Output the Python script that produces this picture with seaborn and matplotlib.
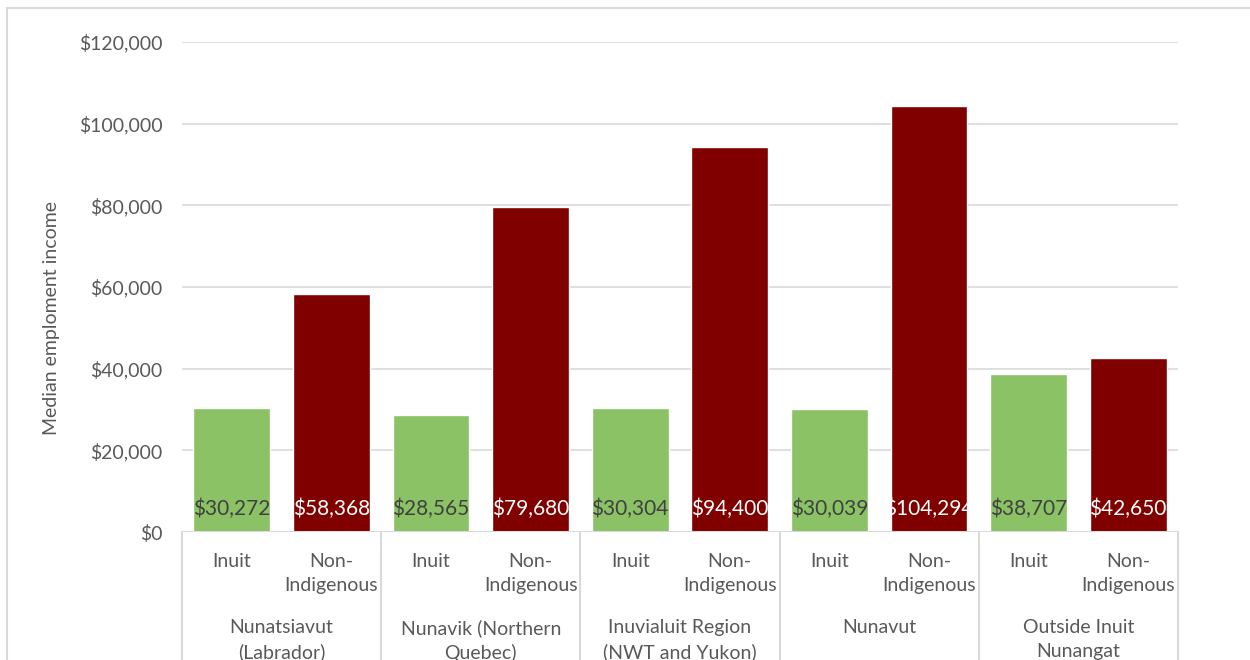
import matplotlib
matplotlib.use("Agg")
import matplotlib.pyplot as plt
import matplotlib.transforms as mtransforms
from matplotlib.patches import Rectangle
import seaborn as sns
import pandas as pd

# ---- data ----
regions = ["Nunatsiavut\n(Labrador)", "Nunavik (Northern\nQuebec)",
           "Inuvialuit Region\n(NWT and Yukon)", "Nunavut",
           "Outside Inuit\nNunangat"]
groups = ["Inuit", "Non-\nIndigenous"]
inuit_income = [30272, 28565, 30304, 30039, 38707]
non_indigenous_income = [58368, 79680, 94400, 104294, 42650]
y_ticks = [0, 20000, 40000, 60000, 80000, 100000, 120000]
y_label = "Median emploment income"

rows = []
for r, a, b in zip(regions, inuit_income, non_indigenous_income):
    rows.append({"key": r + "|" + groups[0], "group": groups[0], "value": a})
    rows.append({"key": r + "|" + groups[1], "group": groups[1], "value": b})
df = pd.DataFrame(rows)
order = list(df["key"])

sns.set_theme(style="white")
plt.rcParams["font.family"] = ["Lato", "DejaVu Sans"]
TXT = "#595959"
GRID = "#D9D9D9"

fig = plt.figure(figsize=(12.5, 6.6), dpi=100)
ax = fig.add_axes([182 / 1250, 1 - 532 / 660, (1178 - 182) / 1250, (532 - 42) / 660])

palette = {groups[0]: "#8BC265", groups[1]: "#800000"}
sns.barplot(data=df, x="key", y="value", hue="group", order=order,
            palette=palette, dodge=False, width=0.77, ax=ax, legend=False,
            saturation=1)

ax.set_xlim(-0.5, len(order) - 0.5)
ax.set_ylim(0, 120000)
ax.set_yticks(y_ticks)
ax.set_yticklabels(["${:,.0f}".format(v) for v in y_ticks], color=TXT, fontsize=14)
ax.yaxis.grid(True, color=GRID, linewidth=1.2)
ax.set_axisbelow(True)
ax.tick_params(axis="y", length=0, pad=14)
for s in ax.spines.values():
    s.set_visible(False)
ax.set_xlabel("")
ax.set_ylabel("")
fig.text(52 / 1250, 1 - 318 / 660, y_label, rotation=90, ha="center",
         va="center", color=TXT, fontsize=14)

# category tick labels
ax.set_xticks(range(len(order)))
ax.set_xticklabels([k.split("|")[1] for k in order], color=TXT, fontsize=14,
                   linespacing=1.5)
ax.tick_params(axis="x", length=0, pad=15)

# axis line & separators
ax.axhline(0, color=GRID, linewidth=1.5, zorder=3)
trans = mtransforms.blended_transform_factory(ax.transData, ax.transAxes)
for xb in [-0.5, 1.5, 3.5, 5.5, 7.5, 9.5]:
    ax.plot([xb, xb], [0, -0.3], color=GRID, linewidth=1.5, transform=trans,
            clip_on=False)

for i, r in enumerate(regions):
    ax.text(2 * i + 0.5, -87 / 490, r, transform=trans, ha="center", va="top",
            color=TXT, fontsize=14, linespacing=1.5, clip_on=False)

# data labels
bars = sorted(ax.patches, key=lambda p: p.get_x())
for p, k, v in zip(bars, order, df["value"]):
    grp = k.split("|")[1]
    col = "#404040" if grp == groups[0] else "white"
    ax.annotate("${:,.0f}".format(v), xy=(p.get_x() + p.get_width() / 2, 0),
                xytext=(0, 16.5), textcoords="offset points", ha="center",
                va="center", color=col, fontsize=15, zorder=5)

# chart border
fig.patches.append(Rectangle((7 / 1250, -0.05), 1.2, 1 - 8 / 660 + 0.05,
                             transform=fig.transFigure, fill=False,
                             edgecolor="#D9D9D9", linewidth=1.5))

fig.savefig("out.png", dpi=100, facecolor="white")
